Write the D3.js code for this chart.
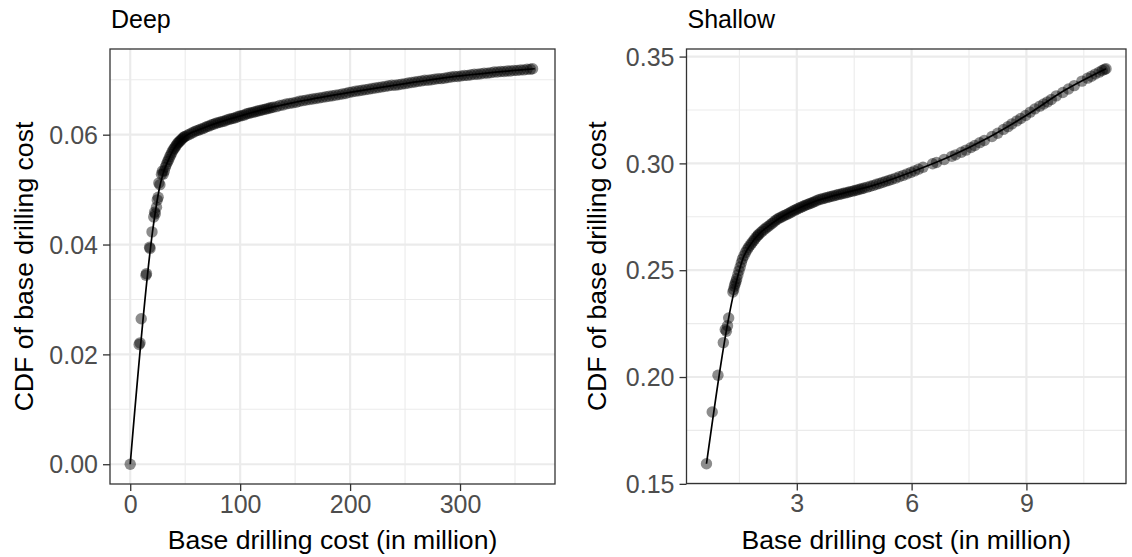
<!DOCTYPE html>
<html>
<head>
<meta charset="utf-8">
<script src="https://cdn.jsdelivr.net/npm/d3@7"></script>
<style>
  html, body { margin: 0; padding: 0; background: #ffffff; }
  svg { display: block; font-family: "Liberation Sans", Arial, Helvetica, sans-serif; }
</style>
</head>
<body>
<svg id="chart" width="1132" height="557"></svg>
<script>
// ---- Deep wells: base drilling cost (million) vs. CDF ----
const deepCost = [0, 8.1, 8.9, 10.0, 14.3, 14.8, 17.6, 18.0, 19.8, 21.4, 22.2, 22.8, 23.9, 24.6, 25.4, 26.0, 27.0, 28.4, 29.3,
  30, 31, 32, 33, 34, 35, 36, 37, 38, 39, 40, 41, 42, 43, 44, 45, 46, 47, 48, 49, 50, 52, 54, 56, 58, 60, 62, 64, 66, 68,
  70, 72, 74, 76, 78, 80, 82, 84, 86, 88, 90, 92, 94, 96, 98, 100, 102, 104, 106, 108, 110, 112, 114, 116, 118, 120, 122,
  124, 126, 128, 130, 133, 136, 139, 142, 145, 148, 151, 154, 157, 160, 163, 166, 169, 172, 175, 178, 181, 184, 187, 190,
  193, 196, 199, 202, 205, 208, 211, 214, 217, 220, 223, 226, 229, 232, 235, 238, 241, 244, 247, 250, 253, 256, 259, 262,
  265, 268, 271, 274, 277, 280, 283, 286, 289, 292, 295, 298, 301, 304, 307, 310, 313, 316, 319, 322, 325, 328, 331, 334,
  337, 340, 343, 346, 349, 352, 355, 358, 361, 364, 366, 368];
const deepCdf = [0, 0.0218, 0.0221, 0.0265, 0.0344, 0.0347, 0.0395, 0.0393, 0.0423, 0.0450, 0.0459, 0.0456, 0.0468, 0.0481,
  0.0486, 0.0512, 0.0509, 0.0528, 0.0534,
  0.0528, 0.0534, 0.0541, 0.0546, 0.0551, 0.0555, 0.0560, 0.0564, 0.0568, 0.0572, 0.0575, 0.0578, 0.0581, 0.0584, 0.0586,
  0.0588, 0.0590, 0.0592, 0.0594, 0.0596, 0.0597, 0.0599, 0.0601, 0.0603, 0.0605, 0.0607, 0.0608, 0.0610, 0.0611, 0.0613,
  0.0615, 0.0616, 0.0618, 0.0619, 0.0621, 0.0622, 0.0623, 0.0624, 0.0625, 0.0627, 0.0628, 0.0629, 0.0630, 0.0631, 0.0633,
  0.0634, 0.0635, 0.0636, 0.0638, 0.0639, 0.0640, 0.0641, 0.0642, 0.0643, 0.0644, 0.0645, 0.0646, 0.0647, 0.0648, 0.0649,
  0.0650, 0.0651, 0.0653, 0.0654, 0.0656, 0.0657, 0.0658, 0.0659, 0.0661, 0.0662, 0.0663, 0.0664, 0.0665, 0.0666, 0.0667,
  0.0668, 0.0669, 0.0670, 0.0671, 0.0672, 0.0673, 0.0674, 0.0675, 0.0677, 0.0678, 0.0679, 0.0680, 0.0681, 0.0682, 0.0683,
  0.0684, 0.0685, 0.0686, 0.0687, 0.0688, 0.0689, 0.0690, 0.0690, 0.0691, 0.0692, 0.0693, 0.0694, 0.0695, 0.0696, 0.0697,
  0.0698, 0.0699, 0.0699, 0.0700, 0.0701, 0.0702, 0.0702, 0.0703, 0.0704, 0.0705, 0.0706, 0.0706, 0.0707, 0.0708, 0.0708,
  0.0709, 0.0710, 0.0710, 0.0711, 0.0712, 0.0712, 0.0713, 0.0714, 0.0714, 0.0715, 0.0715, 0.0716, 0.0716, 0.0717, 0.0717,
  0.0718, 0.0718, 0.0719, 0.0719, 0.0720];
// fitted CDF curve for deep wells
const deepFitCost = [0, 21, 26, 30, 35, 40, 45, 50, 55, 60, 70, 80, 100, 125, 150, 200, 250, 300, 350, 368];
const deepFitCdf = [0, 0.0434, 0.0497, 0.0530, 0.0555, 0.0575, 0.0588, 0.0597, 0.0603, 0.0607, 0.0615, 0.0622, 0.0634,
  0.0648, 0.0659, 0.0677, 0.0693, 0.0707, 0.0717, 0.0720];

// ---- Shallow wells ----
const shallowCost = [0.64, 0.79, 0.94, 1.08, 1.13, 1.16, 1.19, 1.22, 1.33, 1.35, 1.37, 1.39, 1.41, 1.43, 1.46, 1.49, 1.52,
  1.55, 1.58, 1.62, 1.66, 1.70, 1.74, 1.78, 1.82, 1.86, 1.90, 1.94, 1.98, 2.00, 2.05, 2.10, 2.15, 2.20, 2.25, 2.30, 2.35,
  2.40, 2.45, 2.50, 2.55, 2.60, 2.65, 2.70, 2.75, 2.80, 2.85, 2.90, 2.95, 3.00, 3.05, 3.10, 3.15, 3.20, 3.25, 3.30, 3.35,
  3.40, 3.45, 3.50, 3.56, 3.62, 3.68, 3.74, 3.80, 3.86, 3.92, 3.98, 4.04, 4.10, 4.16, 4.22, 4.28, 4.34, 4.40, 4.46, 4.52,
  4.58, 4.64, 4.70, 4.76, 4.84, 4.92, 5.00, 5.08, 5.16, 5.24, 5.32, 5.40, 5.48, 5.58, 5.68, 5.78, 5.88, 5.98, 6.08, 6.18,
  6.30, 6.55, 6.65, 6.85, 7.05, 7.15, 7.30, 7.42, 7.55, 7.65, 7.78, 7.90, 8.10, 8.25, 8.40, 8.52, 8.62, 8.75, 8.85, 8.98,
  9.10, 9.22, 9.35, 9.45, 9.55, 9.65, 9.78, 9.95, 10.10, 10.25, 10.45, 10.60, 10.70, 10.80, 10.90, 10.98, 11.04, 11.08];
const shallowCdf = [0.1594, 0.1836, 0.2008, 0.2161, 0.2222, 0.2214, 0.2240, 0.2276, 0.2398, 0.2410, 0.2425, 0.2436, 0.2447,
  0.2460, 0.2478, 0.2497, 0.2515, 0.2535, 0.2552, 0.2568, 0.2583, 0.2596, 0.2607, 0.2617, 0.2626, 0.2636, 0.2645, 0.2654,
  0.2662, 0.2667, 0.2675, 0.2683, 0.2691, 0.2698, 0.2705, 0.2712, 0.2719, 0.2726, 0.2734, 0.2740, 0.2745, 0.2749, 0.2754,
  0.2758, 0.2762, 0.2767, 0.2772, 0.2777, 0.2781, 0.2786, 0.2790, 0.2794, 0.2798, 0.2802, 0.2806, 0.2809, 0.2813, 0.2816,
  0.2820, 0.2824, 0.2829, 0.2832, 0.2835, 0.2838, 0.2841, 0.2844, 0.2846, 0.2849, 0.2852, 0.2855, 0.2857, 0.2860, 0.2862,
  0.2865, 0.2868, 0.2870, 0.2873, 0.2876, 0.2879, 0.2882, 0.2885, 0.2889, 0.2893, 0.2897, 0.2902, 0.2906, 0.2911, 0.2916,
  0.2920, 0.2925, 0.2931, 0.2938, 0.2944, 0.2951, 0.2958, 0.2965, 0.2973, 0.2982, 0.2998, 0.3004, 0.3018, 0.3033, 0.3040,
  0.3052, 0.3062, 0.3074, 0.3084, 0.3097, 0.3107, 0.3126, 0.3141, 0.3159, 0.3172, 0.3185, 0.3199, 0.3210, 0.3224, 0.3240,
  0.3255, 0.3268, 0.3278, 0.3288, 0.3299, 0.3316, 0.3332, 0.3348, 0.3364, 0.3385, 0.3399, 0.3408, 0.3418, 0.3427, 0.3435,
  0.3440, 0.3443];
// fitted CDF curve for shallow wells
const shallowFitCost = [0.64, 1.38, 1.6, 1.8, 2.0, 2.3, 2.6, 3.0, 3.5, 4.0, 5.0, 6.0, 7.0, 8.0, 9.0, 10.0, 11.08];
const shallowFitCdf = [0.1594, 0.2415, 0.2558, 0.2622, 0.2667, 0.2712, 0.2749, 0.2786, 0.2824, 0.2850, 0.2897, 0.2960,
  0.3032, 0.3120, 0.3225, 0.3342, 0.3443];

// ---- axis breaks and labels ----
const deepXBreaks = [0, 100, 200, 300];
const deepXLabels = ["0", "100", "200", "300"];
const deepXMinor = [50, 150, 250, 350];
const deepYBreaks = [0, 0.02, 0.04, 0.06];
const deepYLabels = ["0.00", "0.02", "0.04", "0.06"];
const deepYMinor = [0.01, 0.03, 0.05, 0.07];

const shallowXBreaks = [3, 6, 9];
const shallowXLabels = ["3", "6", "9"];
const shallowXMinor = [1.5, 4.5, 7.5, 10.5];
const shallowYBreaks = [0.15, 0.20, 0.25, 0.30, 0.35];
const shallowYLabels = ["0.15", "0.20", "0.25", "0.30", "0.35"];
const shallowYMinor = [0.175, 0.225, 0.275, 0.325];

const panelTitles = ["Deep", "Shallow"];
const xTitle = "Base drilling cost (in million)";
const yTitle = "CDF of base drilling cost";

const svg = d3.select("#chart");

// 5% padding on both ends of the data range
function expanded(values) {
  const [lo, hi] = d3.extent(values);
  const pad = (hi - lo) * 0.05;
  return [lo - pad, hi + pad];
}

function drawPanel(cfg) {
  const { left, right, top, bottom } = cfg.box;
  const x = d3.scaleLinear().domain(expanded(cfg.xs)).range([left, right]);
  const y = d3.scaleLinear().domain(expanded(cfg.ys)).range([bottom, top]);
  const g = svg.append("g");

  // panel background + grid
  g.append("rect").attr("x", left).attr("y", top).attr("width", right - left).attr("height", bottom - top)
    .attr("fill", "#ffffff");
  const grid = g.append("g").attr("stroke", "#ebebeb");
  grid.selectAll(".xminor").data(cfg.xMinor).join("line")
    .attr("x1", d => x(d)).attr("x2", d => x(d)).attr("y1", top).attr("y2", bottom).attr("stroke-width", 1.1);
  grid.selectAll(".yminor").data(cfg.yMinor).join("line")
    .attr("y1", d => y(d)).attr("y2", d => y(d)).attr("x1", left).attr("x2", right).attr("stroke-width", 1.1);
  grid.selectAll(".xmajor").data(cfg.xBreaks).join("line")
    .attr("x1", d => x(d)).attr("x2", d => x(d)).attr("y1", top).attr("y2", bottom).attr("stroke-width", 2.2);
  grid.selectAll(".ymajor").data(cfg.yBreaks).join("line")
    .attr("y1", d => y(d)).attr("y2", d => y(d)).attr("x1", left).attr("x2", right).attr("stroke-width", 2.2);

  // points
  const pts = d3.zip(cfg.xs, cfg.ys);
  g.append("g").selectAll("circle").data(pts).join("circle")
    .attr("cx", d => x(d[0])).attr("cy", d => y(d[1])).attr("r", 5.7)
    .attr("fill", "#000000").attr("fill-opacity", 0.45);

  // fitted line
  const line = d3.line().x(d => x(d[0])).y(d => y(d[1])).curve(d3.curveMonotoneX);
  g.append("path").datum(d3.zip(cfg.fitX, cfg.fitY)).attr("d", line)
    .attr("fill", "none").attr("stroke", "#000000").attr("stroke-width", 1.7);

  // border
  g.append("rect").attr("x", left).attr("y", top).attr("width", right - left).attr("height", bottom - top)
    .attr("fill", "none").attr("stroke", "#333333").attr("stroke-width", 1.3);

  // axes
  const xAxis = d3.axisBottom(x).tickValues(cfg.xBreaks)
    .tickFormat((d, i) => cfg.xLabels[i]).tickSize(7).tickPadding(4);
  const yAxis = d3.axisLeft(y).tickValues(cfg.yBreaks)
    .tickFormat((d, i) => cfg.yLabels[i]).tickSize(7).tickPadding(5);
  const ax = g.append("g").attr("transform", `translate(0,${bottom})`).call(xAxis);
  const ay = g.append("g").attr("transform", `translate(${left},0)`).call(yAxis);
  [ax, ay].forEach(a => {
    a.select(".domain").remove();
    a.selectAll(".tick line").attr("stroke", "#333333").attr("stroke-width", 1.3);
    a.selectAll(".tick text").attr("fill", "#4d4d4d").attr("font-size", 25)
      .attr("font-family", "'Liberation Sans', Arial, sans-serif");
  });
  ax.selectAll(".tick text").attr("dy", "0.71em");
  ay.selectAll(".tick text").attr("dy", "0.35em");

  // titles
  g.append("text").attr("x", left + 1).attr("y", 28).attr("font-size", 25).attr("fill", "#000")
    .text(cfg.title);
  g.append("text").attr("x", (left + right) / 2).attr("y", 549).attr("text-anchor", "middle")
    .attr("font-size", 26.6).attr("fill", "#000").text(xTitle);
  g.append("text").attr("transform", `translate(${cfg.yTitleX},${(top + bottom) / 2}) rotate(-90)`)
    .attr("text-anchor", "middle").attr("font-size", 26.6).attr("fill", "#000").text(yTitle);
}

drawPanel({
  box: { left: 110, right: 555, top: 49, bottom: 484 },
  xs: deepCost, ys: deepCdf, fitX: deepFitCost, fitY: deepFitCdf,
  xBreaks: deepXBreaks, xLabels: deepXLabels, xMinor: deepXMinor,
  yBreaks: deepYBreaks, yLabels: deepYLabels, yMinor: deepYMinor,
  title: panelTitles[0], yTitleX: 33
});
drawPanel({
  box: { left: 686.5, right: 1126, top: 49, bottom: 483.5 },
  xs: shallowCost, ys: shallowCdf, fitX: shallowFitCost, fitY: shallowFitCdf,
  xBreaks: shallowXBreaks, xLabels: shallowXLabels, xMinor: shallowXMinor,
  yBreaks: shallowYBreaks, yLabels: shallowYLabels, yMinor: shallowYMinor,
  title: panelTitles[1], yTitleX: 606
});
</script>
</body>
</html>
